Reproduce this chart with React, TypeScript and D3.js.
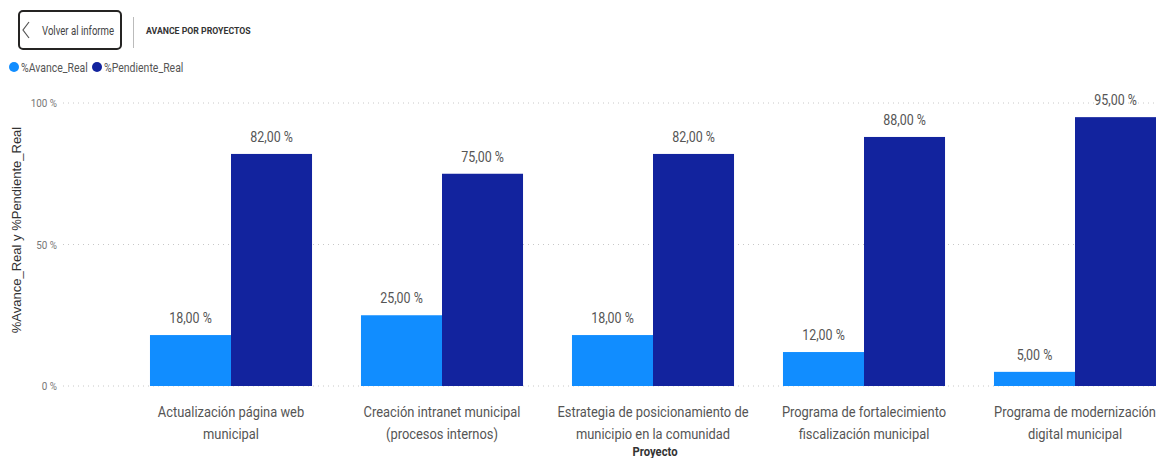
import React from "react";
import * as d3 from "d3";

const categories: string[][] = [
  ["Actualización página web", "municipal"],
  ["Creación intranet municipal", "(procesos internos)"],
  ["Estrategia de posicionamiento de", "municipio en la comunidad"],
  ["Programa de fortalecimiento", "fiscalización municipal"],
  ["Programa de modernización", "digital municipal"],
];
const avanceReal = [18, 25, 18, 12, 5];
const pendienteReal = [82, 75, 82, 88, 95];
const seriesNames = ["%Avance_Real", "%Pendiente_Real"];
const seriesColors = ["#118DFF", "#12239E"];
const yTicks = [0, 50, 100];

const W = 1156;
const H = 458;
const FONT = "Roboto, 'Open Sans', sans-serif";

type TP = {
  x: number;
  y: number;
  sx?: number;
  size: number;
  fill?: string;
  anchor?: "start" | "middle" | "end";
  weight?: number;
  family?: string;
  children: React.ReactNode;
};
function Txt({ x, y, sx = 0.86, size, fill = "#555", anchor = "start", weight = 400, family = FONT, children }: TP) {
  return (
    <text
      transform={`translate(${x},${y}) scale(${sx},1)`}
      textAnchor={anchor}
      fontFamily={family}
      fontSize={size}
      fontWeight={weight}
      fill={fill}
    >
      {children}
    </text>
  );
}

export default function App() {
  const keys = categories.map((c) => c.join(" "));
  const y = d3.scaleLinear().domain([0, 100]).range([386, 103]);
  const x0 = d3.scaleBand<string>().domain(keys).range([125.5, 1180.5]).paddingInner(0.232).paddingOuter(0.116);
  const x1 = d3.scaleBand<string>().domain(seriesNames).range([0, x0.bandwidth()]).padding(0);
  const fmt = (v: number) => d3.format(".2f")(v).replace(".", ",") + " %";

  const data = keys.map((k, i) => ({ key: k, lines: categories[i], values: [avanceReal[i], pendienteReal[i]] }));

  return (
    <svg width={W} height={H} style={{ position: "absolute", left: 0, top: 0, background: "#fff" }}>
      {/* header */}
      <rect x={19} y={11} width={102} height={38} rx={4} fill="#fff" stroke="#252423" strokeWidth={2} />
      <path d="M29,22 L23,30 L29,38" fill="none" stroke="#555" strokeWidth={1.2} />
      <Txt x={42} y={35} size={12} sx={0.8} fill="#444">Volver al informe</Txt>
      <line x1={133.5} x2={133.5} y1={17} y2={48} stroke="#bbb" strokeWidth={1} />
      <Txt x={146} y={34} size={9.5} sx={0.92} weight={700} fill="#333">AVANCE POR PROYECTOS</Txt>

      {/* legend */}
      <circle cx={14} cy={67} r={5} fill={seriesColors[0]} />
      <Txt x={21} y={71.5} size={12.5} sx={0.84} fill="#555">{seriesNames[0]}</Txt>
      <circle cx={97} cy={67} r={5} fill={seriesColors[1]} />
      <Txt x={104} y={71.5} size={12.5} sx={0.84} fill="#555">{seriesNames[1]}</Txt>

      {/* y axis title */}
      <text transform={`translate(21,${230}) rotate(-90)`} textAnchor="middle" fontFamily="'Liberation Sans', Arial, sans-serif" fontSize={13} fill="#333">
        %Avance_Real y %Pendiente_Real
      </text>

      {/* grid + ticks */}
      {yTicks.map((t) => (
        <g key={t}>
          <line x1={63} x2={W} y1={y(t)} y2={y(t)} stroke="#c8c8c8" strokeWidth={1} strokeDasharray="1,4" />
          <Txt x={57} y={y(t) + 4} anchor="end" size={11.5} fill="#777">{t} %</Txt>
        </g>
      ))}

      {/* bars */}
      {data.map((d) => (
        <g key={d.key} transform={`translate(${x0(d.key)},0)`}>
          {d.values.map((v, j) => (
            <g key={j}>
              <rect x={x1(seriesNames[j])} y={y(v)} width={x1.bandwidth()} height={y(0) - y(v)} fill={seriesColors[j]} />
              <Txt x={(x1(seriesNames[j]) as number) + x1.bandwidth() / 2} y={y(v) - 12} anchor="middle" size={14.5} fill="#555">
                {fmt(v)}
              </Txt>
            </g>
          ))}
          {d.lines.map((l, li) => (
            <Txt key={li} x={x0.bandwidth() / 2} y={417 + li * 22} anchor="middle" size={15} fill="#555">{l}</Txt>
          ))}
        </g>
      ))}

      {/* x axis title */}
      <Txt x={(x0(keys[2]) as number) + x0.bandwidth() / 2 + 2} y={456} anchor="middle" size={12.5} sx={0.9} weight={700} fill="#333">Proyecto</Txt>
    </svg>
  );
}
